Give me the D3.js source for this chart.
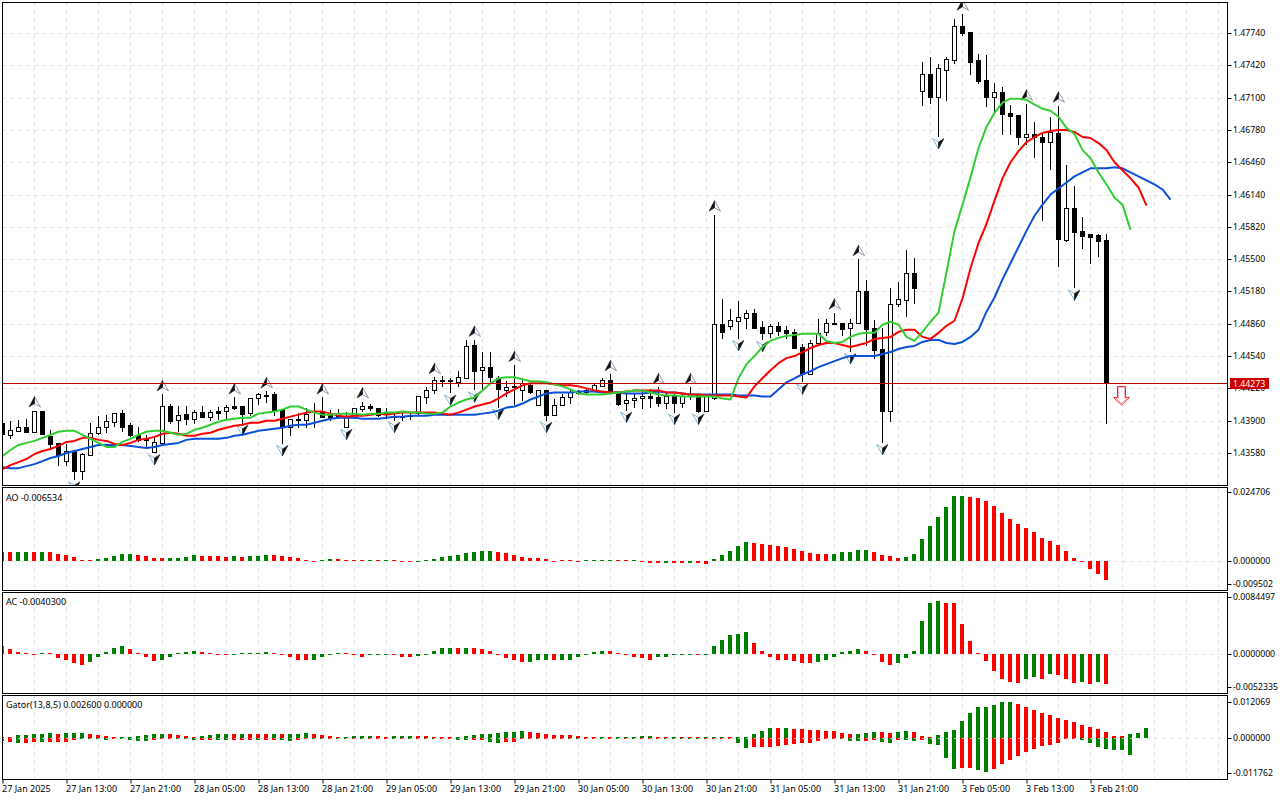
<!DOCTYPE html>
<html>
<head>
<meta charset="utf-8">
<script src="https://cdn.jsdelivr.net/npm/d3@7/dist/d3.min.js"></script>
<style>
html,body{margin:0;padding:0;background:#fff;overflow:hidden}
svg{display:block}
text{font-family:"Noto Sans","Liberation Sans",sans-serif;font-size:9px;fill:#000}
</style>
</head>
<body>
<svg id="chart" width="1280" height="800"></svg>
<script>
// ---- Candles, in units of 0.0001 ----
const opens=[14388,14376,14380,14384,14379,14400,14375,14368,14350,14360,
14340,14356,14378,14384,14389,14398,14386,14376,14372,14359,
14368,14405,14391,14397,14392,14399,14394,14400,14400,14405,
14405,14398,14412,14415,14416,14402,14384,14392,14391,14399,
14400,14396,14395,14384,14394,14402,14405,14403,14398,14395,
14394,14395,14398,14413,14420,14429,14430,14428,14432,14465,
14440,14443,14432,14420,14424,14420,14425,14406,14420,14396,
14406,14413,14417,14418,14419,14424,14430,14417,14408,14410,
14412,14414,14413,14408,14414,14408,14414,14415,14400,14412,
14486,14484,14489,14492,14497,14483,14477,14484,14480,14478,
14463,14436,14467,14478,14487,14487,14482,14487,14518,14482,
14461,14400,14506,14510,14536,14717,14733,14711,14737,14747,
14781,14775,14747,14727,14711,14716,14695,14693,14671,14674,
14671,14666,14675,14569,14601,14578,14575,14574,14569];
const closes=[14377,14381,14384,14379,14400,14377,14367,14356,14360,14340,
14357,14378,14384,14390,14398,14384,14376,14371,14371,14369,
14405,14390,14396,14392,14399,14394,14399,14398,14404,14403,
14397,14412,14416,14414,14401,14384,14392,14392,14397,14400,
14394,14394,14398,14395,14403,14405,14403,14396,14397,14394,
14395,14396,14414,14420,14430,14430,14429,14433,14464,14439,
14443,14433,14421,14423,14423,14427,14418,14420,14396,14406,
14413,14418,14418,14420,14425,14430,14419,14407,14410,14412,
14414,14412,14408,14414,14408,14414,14416,14400,14414,14486,
14478,14490,14493,14497,14482,14477,14484,14479,14477,14462,
14436,14467,14477,14487,14487,14481,14487,14518,14481,14460,
14400,14506,14511,14536,14521,14733,14711,14739,14748,14781,
14774,14745,14726,14711,14716,14694,14692,14671,14674,14671,
14666,14676,14570,14601,14577,14573,14572,14568,14427];
const highs=[14392,14390,14391,14392,14400,14400,14381,14368,14367,14360,
14358,14388,14395,14396,14398,14401,14388,14384,14376,14373,
14416,14407,14405,14405,14401,14405,14401,14404,14406,14413,
14405,14412,14417,14419,14418,14402,14392,14398,14403,14408,
14413,14401,14402,14399,14403,14409,14407,14403,14403,14397,
14398,14399,14414,14423,14433,14434,14432,14439,14470,14470,
14458,14458,14434,14429,14445,14430,14427,14420,14420,14411,
14416,14420,14420,14421,14426,14432,14436,14418,14416,14416,
14419,14421,14423,14418,14416,14416,14423,14416,14414,14594,
14511,14501,14509,14500,14501,14489,14486,14488,14484,14481,
14466,14470,14491,14491,14497,14487,14491,14550,14529,14490,
14482,14521,14527,14559,14551,14745,14750,14743,14750,14788,
14793,14775,14753,14752,14724,14721,14703,14693,14704,14686,
14675,14691,14702,14643,14622,14592,14575,14575,14575];
const lows=[14375,14373,14380,14379,14379,14377,14364,14346,14346,14332,
14332,14356,14377,14379,14385,14380,14375,14370,14365,14359,
14368,14388,14380,14387,14388,14394,14391,14392,14392,14402,
14388,14396,14407,14409,14396,14368,14376,14384,14384,14384,
14394,14391,14393,14384,14393,14400,14401,14395,14393,14391,
14391,14392,14396,14408,14417,14424,14418,14424,14432,14421,
14421,14428,14404,14414,14407,14410,14417,14406,14391,14396,
14406,14408,14416,14416,14419,14424,14419,14406,14401,14404,
14403,14404,14405,14403,14399,14404,14411,14399,14400,14411,
14472,14481,14472,14482,14482,14471,14473,14475,14472,14462,
14429,14436,14467,14475,14486,14475,14459,14487,14465,14452,
14369,14390,14504,14494,14507,14703,14705,14672,14708,14744,
14772,14733,14724,14702,14695,14674,14674,14664,14664,14651,
14589,14639,14543,14568,14522,14561,14546,14553,14388];

// ---- Alligator, in units of 0.0001 ----
const jaw=[14344,14343,14343,14345,14347,14350,14353,14355,14358,14360,
14362,14364,14366,14366,14366,14366,14365,14364,14363,14364,
14366,14367,14368,14371,14372,14372,14372,14372,14373,14375,
14376,14378,14380,14381,14382,14383,14385,14386,14386,14388,
14390,14392,14393,14393,14393,14392,14392,14392,14393,14394,
14394,14395,14395,14395,14396,14396,14396,14396,14396,14396,
14397,14398,14400,14403,14404,14407,14411,14414,14417,14418,
14418,14418,14419,14419,14419,14418,14418,14418,14417,14417,
14417,14418,14419,14418,14418,14417,14416,14416,14416,14416,
14416,14416,14415,14415,14415,14414,14414,14421,14428,14432,
14436,14439,14443,14446,14449,14452,14454,14454,14454,14454,
14456,14458,14461,14463,14464,14468,14470,14470,14467,14466,
14468,14473,14480,14498,14512,14530,14546,14562,14578,14593,
14604,14614,14620,14626,14632,14636,14640,14640,14640,14641,
14640,14636,14632,14628,14624,14619,14609];
const teeth=[14342,14346,14349,14352,14357,14360,14362,14365,14369,14370,
14373,14373,14371,14370,14367,14366,14368,14371,14372,14374,
14377,14378,14377,14375,14375,14377,14378,14381,14383,14385,
14386,14388,14388,14390,14390,14392,14394,14396,14398,14399,
14399,14397,14395,14394,14395,14395,14396,14397,14396,14397,
14398,14398,14398,14398,14398,14397,14396,14398,14401,14404,
14406,14408,14412,14417,14421,14425,14427,14427,14427,14426,
14425,14425,14424,14422,14420,14419,14418,14418,14419,14420,
14420,14420,14420,14418,14418,14417,14416,14416,14415,14415,
14415,14415,14414,14413,14424,14432,14440,14447,14452,14454,
14458,14462,14465,14467,14467,14465,14463,14465,14467,14471,
14472,14473,14478,14480,14480,14473,14471,14477,14484,14489,
14511,14541,14566,14585,14608,14630,14646,14657,14666,14671,
14675,14677,14678,14678,14676,14671,14670,14665,14658,14646,
14638,14630,14621,14603];
const lips=[14355,14361,14366,14368,14370,14373,14376,14379,14380,14380,
14376,14372,14368,14364,14364,14369,14372,14376,14379,14380,
14380,14378,14376,14377,14381,14383,14386,14389,14391,14392,
14393,14393,14397,14398,14399,14401,14404,14404,14401,14398,
14396,14396,14397,14397,14397,14396,14397,14397,14398,14398,
14399,14398,14398,14397,14397,14398,14404,14408,14411,14413,
14420,14427,14432,14433,14433,14431,14429,14429,14428,14426,
14424,14421,14417,14416,14416,14416,14417,14418,14419,14420,
14420,14418,14416,14415,14415,14414,14414,14414,14414,14414,
14412,14411,14432,14446,14454,14463,14469,14472,14474,14475,
14476,14476,14476,14469,14467,14468,14473,14476,14477,14477,
14485,14488,14485,14473,14469,14478,14488,14497,14537,14578,
14604,14631,14660,14681,14695,14705,14709,14709,14708,14703,
14699,14697,14691,14680,14674,14658,14650,14636,14624,14611,
14604,14579];

// ---- Fractals: bar numbers ----
const fractalUp=[4,20,29,33,40,45,54,59,64,76,82,86,89,104,107,120,128,132];
const fractalDown=[9,19,30,35,43,49,56,59,62,68,78,84,87,92,95,100,106,110,117,134];

// ---- Awesome Oscillator, in units of 0.0001 ----
const aoValues=[31,31,31,31,31,31,31,24,21,14,3,3,7,10,17,24,24,21,17,10,
10,10,10,14,21,17,17,17,14,17,14,17,17,21,21,17,14,10,3,-2,
3,7,7,3,3,3,3,3,3,3,-2,-2,-1,1,7,14,17,21,27,31,
34,34,31,27,21,14,10,10,7,-1,2,2,-3,1,2,3,3,3,2,1,
-3,-7,-7,-7,-7,-7,-7,-7,-8,7,21,34,51,65,62,58,55,51,48,41,
34,27,24,24,24,31,31,38,38,31,21,17,10,14,24,75,120,150,185,222,
222,219,215,205,188,164,144,127,113,99,79,68,55,34,10,-3,-27,-44,-65];
const aoDirs="uduududddd"+"dduuuuuddd"+"duuuuddddu"+"duuudddddd"+"uuddddudud"+"dduuuuuuuu"+"uudddddddd"+"ddduuuuddu"+"dddudduddu"+"uuuudddddd"+"dddduuuuud"+"ddduuuuuuu"+"uddddddddd"+"ddddddddd";

// ---- Accelerator, in units of 0.0001 ----
const acValues=[12,7,3,1,-0.7,1,0.4,-5,-8,-12,-15,-11,-3,3,8,12,7,1,-4,-9,
-8,-4,0.4,3,5,3,0.7,-0.7,-1,-0.7,0.7,0.4,1,3,1,-0.7,-3,-7,-8,-8,
-3,-0.7,0.7,0.4,-1,-3,-0.7,-0.7,-0.7,-0.7,-3,-3,-2,-0.4,4,8,9,9,9,8,
7,5,-0.7,-5,-8,-11,-11,-7,-7,-8,-7,-7,-4,-0.4,3,4,4,1,-0.4,-3,
-5,-7,-4,-3,-1,-0.4,-1,-0.7,-0.4,12,20,26,28,30,15,4,-4,-8,-8,-9,
-12,-12,-11,-7,-3,3,5,7,5,-0.4,-11,-14,-12,-5,5,45,69,72,70,69,
41,18,1,-9,-22,-33,-38,-39,-34,-31,-33,-27,-28,-34,-39,-37,-40,-37,-40];
const acDirs="dddddudddd"+"duuuuudddd"+"uuuuuddddu"+"uuuudddddu"+"uuuddduuud"+"dduuuuudud"+"dddddduuud"+"uuuuuudddd"+"dduuuuuduu"+"uuuudddddd"+"dduuuuuudd"+"dduuuuuudd"+"dddddddduu"+"dudddudud";

// ---- Gator, in units of 0.0001 ----
const gatorUpper=[2,3,10,10,13,13,17,13,17,17,17,13,10,7,3,3,1,7,10,13,
13,13,10,7,3,7,10,13,13,13,13,13,13,13,13,13,13,13,17,13,
10,7,3,3,7,7,7,7,3,7,7,7,7,7,3,3,3,3,7,10,
13,13,17,20,20,23,20,17,13,10,10,10,7,3,3,3,3,3,3,3,
7,7,3,3,3,3,3,3,3,3,3,3,1,3,13,23,33,33,33,30,
30,27,27,23,23,17,13,13,17,20,20,17,20,23,20,7,3,10,20,27,
57,83,103,103,110,120,120,113,103,93,83,77,67,60,53,43,37,30,20,7,
7,13,17,33];
const gatorUpperDirs="dduuuuuduu"+"udddduuuuu"+"udddduuuud"+"uddduduuud"+"ddduuuuddu"+"uuddddduuu"+"uuuuuudddd"+"ddddduduuu"+"uudduddduu"+"uduuuuudud"+"ddddddduuu"+"dduuddduuu"+"uuuuuuuddd"+"dddddddddd"+"duuu";
const gatorLower=[10,13,17,17,13,13,13,13,13,5,3,3,3,5,3,3,5,10,10,5,
3,2,3,3,5,5,5,5,5,5,5,5,5,5,5,5,10,5,3,3,
2,3,2,2,3,3,3,3,3,3,2,2,2,2,2,2,2,7,7,7,
7,13,17,13,13,3,1,1,1,1,1,2,4,2,2,2,2,2,2,2,
2,2,2,2,2,2,2,2,2,2,2,2,17,33,30,30,30,27,23,20,
17,17,10,3,3,3,10,10,10,5,13,17,7,7,10,7,20,23,67,103,
100,100,107,113,103,87,73,60,47,37,27,23,17,3,3,7,17,30,37,40,
40,57];
const gatorLowerDirs="ududdudddd"+"uuuuduuuud"+"dduuudduud"+"ddudduuddu"+"uduududddu"+"duduudduud"+"duuddddudd"+"duuddududu"+"ddduuuuudd"+"dduudddddd"+"ddddduuudd"+"uuduuduuuu"+"dduudddddd"+"ddddduuuuu"+"uu";

// ---- Ticks and labels ----
const priceTicks=[1.4774,1.4742,1.4710,1.4678,1.4646,1.4614,1.4582,1.4550,1.4518,1.4486,1.4454,1.4422,1.4390,1.4358];
const lastPrice=1.44273;
const signalBar=139.875, signalPrice=1.4415;
const aoTicks=[0.024706,0,-0.009502];
const acTicks=[0.0084497,0,-0.0052335];
const gatorTicks=[0.012069,0,-0.011762];
const timeLabels=["27 Jan 2025","27 Jan 13:00","27 Jan 21:00","28 Jan 05:00","28 Jan 13:00","28 Jan 21:00","29 Jan 05:00","29 Jan 13:00","29 Jan 21:00","30 Jan 05:00","30 Jan 13:00","30 Jan 21:00","31 Jan 05:00","31 Jan 13:00","31 Jan 21:00","3 Feb 05:00","3 Feb 13:00","3 Feb 21:00"];

// ---- Layout ----
const L=2.5,R=1227.5;
const panels={
  main:{top:2.5,bottom:485.5},
  ao:{top:487.5,bottom:590.5},
  ac:{top:592.5,bottom:693.5},
  gator:{top:695.5,bottom:779.5}
};
const GRID="#e4e4e4",UP="#008000",DOWN="#ff0000";
const FONT='"Noto Sans","Liberation Sans",sans-serif';
const svg=d3.select("#chart");
const defs=svg.append("defs");
const x=d3.scaleLinear().domain([0,1]).range([2.5,10.5]);
const pip=v=>v/1e4;
const y=d3.scaleLinear().domain([1.4774,1.4358]).range([33,453]);
const yAO=d3.scaleLinear().domain([0.024706,-0.009502]).range([489,589]);
const yAC=d3.scaleLinear().domain([0.0084497,-0.0052335]).range([592,693]);
const yGator=d3.scaleLinear().domain([0.012069,-0.011762]).range([702,773.5]);
// plain hyphen for negatives, as the reference prints them
const plain=spec=>{const f=d3.format(spec);return v=>f(v).replace("\u2212","-");};

Object.entries(panels).forEach(([k,p])=>{
  defs.append("clipPath").attr("id","clip-"+k).append("rect")
    .attr("x",L).attr("y",p.top).attr("width",R-L).attr("height",p.bottom-p.top);
});
const gridG=svg.append("g").attr("stroke",GRID).attr("stroke-dasharray","4,4").attr("fill","none");
const hLine=(g,yy)=>g.append("line").attr("x1",L).attr("x2",R).attr("y1",Math.round(yy)+.5).attr("y2",Math.round(yy)+.5);

// vertical grid
Object.values(panels).forEach(p=>{
  d3.range(4,153,4).forEach(i=>{
    if(x(i)<R) gridG.append("line").attr("x1",x(i)).attr("x2",x(i)).attr("y1",p.top).attr("y2",p.bottom);
  });
});
priceTicks.forEach(t=>hLine(gridG,y(t)));
hLine(gridG,yAO(0));hLine(gridG,yAC(0));

// candles
const candleData=opens.map((o,i)=>({i,o:pip(o),c:pip(closes[i]),h:pip(highs[i]),l:pip(lows[i])}));
const main=svg.append("g").attr("clip-path","url(#clip-main)");
const candles=main.append("g").selectAll("g").data(candleData).join("g");
candles.append("line").attr("x1",d=>x(d.i)).attr("x2",d=>x(d.i))
  .attr("y1",d=>Math.round(y(d.h))).attr("y2",d=>Math.round(y(d.l))+1)
  .attr("stroke","#000").attr("shape-rendering","crispEdges");
candles.append("rect")
  .attr("x",d=>x(d.i)-2).attr("width",4)
  .attr("y",d=>Math.round(y(Math.max(d.o,d.c)))+.5)
  .attr("height",d=>Math.max(1,Math.round(y(Math.min(d.o,d.c)))-Math.round(y(Math.max(d.o,d.c)))))
  .attr("fill",d=>d.c>=d.o?"#fff":"#000").attr("stroke","#000").attr("shape-rendering","crispEdges");

// fractal glyphs
function fractal(i,up){
  const cx=x(i),cy=up?y(pip(highs[i]))-8.5:y(pip(lows[i]))+7.5,s=up?1:-1;
  const g=main.append("g").attr("transform",`translate(${cx},${cy}) scale(${s},${s})`);
  g.append("path").attr("d","M0,-5.5L6,5L0,1.5Z").attr("fill","#fff").attr("stroke",up?"#8f9bb3":"#7fb7d6").attr("stroke-width",1);
  g.append("path").attr("d","M0,-5.5L-5.5,5L0,1.5Z").attr("fill","#111").attr("stroke","#111").attr("stroke-width",.5);
}
fractalUp.forEach(i=>fractal(i,true));
fractalDown.forEach(i=>fractal(i,false));

// Alligator
const lineGen=d3.line().x((d,i)=>x(i)).y(d=>y(pip(d)));
[[jaw,"#0a50d8"],[teeth,"#ff0000"],[lips,"#32cd32"]].forEach(([s,col])=>{
  main.append("path").attr("d",lineGen(s)).attr("fill","none").attr("stroke",col).attr("stroke-width",2).attr("stroke-linejoin","round");
});

// last-price line and sell arrow
svg.append("line").attr("x1",L).attr("x2",R).attr("y1",Math.round(y(lastPrice))+.5).attr("y2",Math.round(y(lastPrice))+.5)
  .attr("stroke","#c00000").attr("stroke-width",1);
const sg=svg.append("g").attr("transform",`translate(${x(signalBar)},${y(signalPrice)})`);
sg.append("path").attr("d","M-4,-9H4V2H8L0,9.5L-8,2H-4Z").attr("fill","#fff").attr("stroke","#ff2020").attr("stroke-width",1);
sg.append("path").attr("d","M-3,-8H3V3H5.5L0,8L-5.5,3H-3Z").attr("fill","none").attr("stroke","#ffb0c8").attr("stroke-width",1);

// histogram panels
function bars(key,vals,dirs,sc,sign){
  const g=svg.append("g").attr("clip-path",`url(#clip-${key})`).attr("shape-rendering","crispEdges");
  const z=Math.round(sc(0));
  g.selectAll("rect").data(vals).join("rect")
    .attr("x",(d,i)=>x(i)-2.5).attr("width",4)
    .attr("y",d=>{const v=sign*d/1e4,yy=Math.round(sc(v));return v>=0?Math.min(yy,z-1):z;})
    .attr("height",d=>Math.max(1,Math.abs(Math.round(sc(sign*d/1e4))-z)))
    .attr("fill",(d,i)=>dirs[i]==="u"?UP:DOWN);
}
bars("ao",aoValues,aoDirs,yAO,1);
bars("ac",acValues,acDirs,yAC,1);
bars("gator",gatorUpper,gatorUpperDirs,yGator,1);
bars("gator",gatorLower,gatorLowerDirs,yGator,-1);
hLine(svg.append("g").attr("stroke",GRID).attr("stroke-dasharray","4,4"),yGator(0));

// frames
Object.values(panels).forEach(p=>{
  svg.append("rect").attr("x",L).attr("y",p.top).attr("width",R-L).attr("height",p.bottom-p.top)
    .attr("fill","none").attr("stroke","#000");
});

// right axes
function rightAxis(sc,ticks,fmt,lo,hi){
  const g=svg.append("g").attr("transform",`translate(${R},0)`)
    .call(d3.axisRight(sc).tickValues(ticks).tickFormat(fmt).tickSize(4).tickPadding(1.5));
  g.select(".domain").remove();
  g.selectAll(".tick").attr("transform",d=>`translate(0,${Math.round(Math.min(hi,Math.max(lo,sc(d))))+.5})`);
  g.selectAll("line").attr("stroke","#000");
  g.selectAll("text").style("font-size","8.7px").style("font-family",FONT).attr("fill","#000");
  return g;
}
rightAxis(y,priceTicks,plain(".5f"),0,500);
rightAxis(yAO,aoTicks,plain(".6f"),492,584);
rightAxis(yAC,acTicks,plain(".7f"),597,687);
rightAxis(yGator,gatorTicks,plain(".6f"),701,773);

// price tag
const ly=Math.round(y(lastPrice));
svg.append("rect").attr("x",1230).attr("y",ly-5).attr("width",39).attr("height",11).attr("fill","#cc0000");
svg.append("text").attr("x",1233).attr("y",ly+3.5).style("fill","#fff").style("font-size","8.7px").text(plain(".5f")(lastPrice));

// time axis
const tickBars=timeLabels.map((_,k)=>k*8);
const xAxis=d3.axisBottom(x).tickValues(tickBars).tickFormat((d,k)=>timeLabels[k]).tickSize(4).tickPadding(2);
const xg=svg.append("g").attr("transform",`translate(0,${panels.gator.bottom})`).call(xAxis);
xg.select(".domain").remove();
xg.selectAll("line").attr("stroke","#000");
xg.selectAll("text").attr("text-anchor","start").attr("dx",-1)
  .style("font-size","9px").style("font-family",FONT).attr("fill","#000");

// panel captions
[["AO -0.006534",500.5],["AC -0.0040300",604.5],["Gator(13,8,5) 0.002600 0.000000",707.5]].forEach(([t,yy])=>{
  svg.append("text").attr("x",6).attr("y",yy).text(t);
});
</script>
</body>
</html>
